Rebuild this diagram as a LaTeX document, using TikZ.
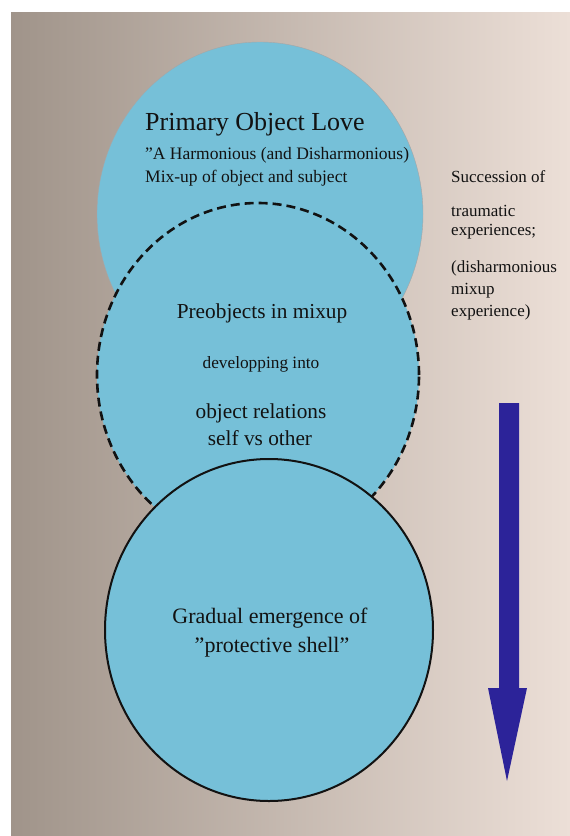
\documentclass[tikz,border=0pt]{standalone}
\usepackage{fontspec}
\setmainfont{Liberation Serif}
\usetikzlibrary{shapes.geometric}
\definecolor{disc}{HTML}{76C0D8}
\definecolor{arrowblue}{HTML}{2C2399}
\definecolor{bgL}{HTML}{A0948A}
\definecolor{bgM}{HTML}{CEC2B8}
\definecolor{bgR}{HTML}{ECDFD7}
\definecolor{ink}{HTML}{121212}
\begin{document}
\begin{tikzpicture}[x=1pt,y=-1pt,
  disk/.style={ellipse, inner sep=0pt, outer sep=0pt, fill=disc},
  ctxt/.style={anchor=base, inner sep=0pt, text=ink},
  ltxt/.style={anchor=base west, inner sep=0pt, text=ink},
  fA/.style={font=\fontsize{26}{30}\selectfont},
  fB/.style={font=\fontsize{17.5}{20}\selectfont},
  fC/.style={font=\fontsize{21.3}{24}\selectfont},
  fD/.style={font=\fontsize{17.3}{20}\selectfont},
  fE/.style={font=\fontsize{17}{20}\selectfont}]
\useasboundingbox (0,0) rectangle (570,836);
\fill[white] (0,0) rectangle (570,836);
\shade[left color=bgL, middle color=bgM, right color=bgR] (11,12) rectangle (570,836);

% discs
\node[disk, draw=black!35, line width=0.4pt, minimum width=326pt, minimum height=344pt] (topdisk) at (260,214) {};
\node[disk, draw=ink, line width=2.6pt, dash pattern=on 9pt off 5pt,
      minimum width=322pt, minimum height=344pt] (middisk) at (258,375) {};
\node[disk, draw=ink, line width=2pt, minimum width=328pt, minimum height=342pt] (botdisk) at (269,630) {};

% top disc text
\node[ltxt, fA] (t1) at (145,130) {Primary Object Love};
\node[ltxt, fB] (t2) at (145,159) {”A Harmonious (and Disharmonious)};
\node[ltxt, fB] (t3) at (145,182) {Mix-up of object and subject};

% middle disc text
\node[ctxt, fC] (m1) at (262,318) {Preobjects in mixup};
\node[ctxt, fD] (m2) at (261,368) {developping into};
\node[ctxt, fC] (m3) at (261,418) {object relations};
\node[ctxt, fC] (m4) at (260,445) {self vs other};

% bottom disc text
\node[ctxt, font=\fontsize{22}{26}\selectfont] (b1) at (270,623) {Gradual emergence of};
\node[ctxt, font=\fontsize{22}{26}\selectfont] (b2) at (272,652) {”protective shell”};

% right text
\node[ltxt, fE] (r1) at (451,182) {Succession of};
\node[ltxt, fE] (r2) at (451,216) {traumatic};
\node[ltxt, fE] (r3) at (451,235) {experiences;};
\node[ltxt, fE] (r4) at (451,272) {(disharmonious};
\node[ltxt, fE] (r5) at (451,294) {mixup};
\node[ltxt, fE] (r6) at (451,316) {experience)};

% arrow
\fill[arrowblue] (499,403) -- (519,403) -- (519,688) -- (527,688) -- (507,781)
  -- (488,688) -- (499,688) -- cycle;
\end{tikzpicture}
\end{document}
